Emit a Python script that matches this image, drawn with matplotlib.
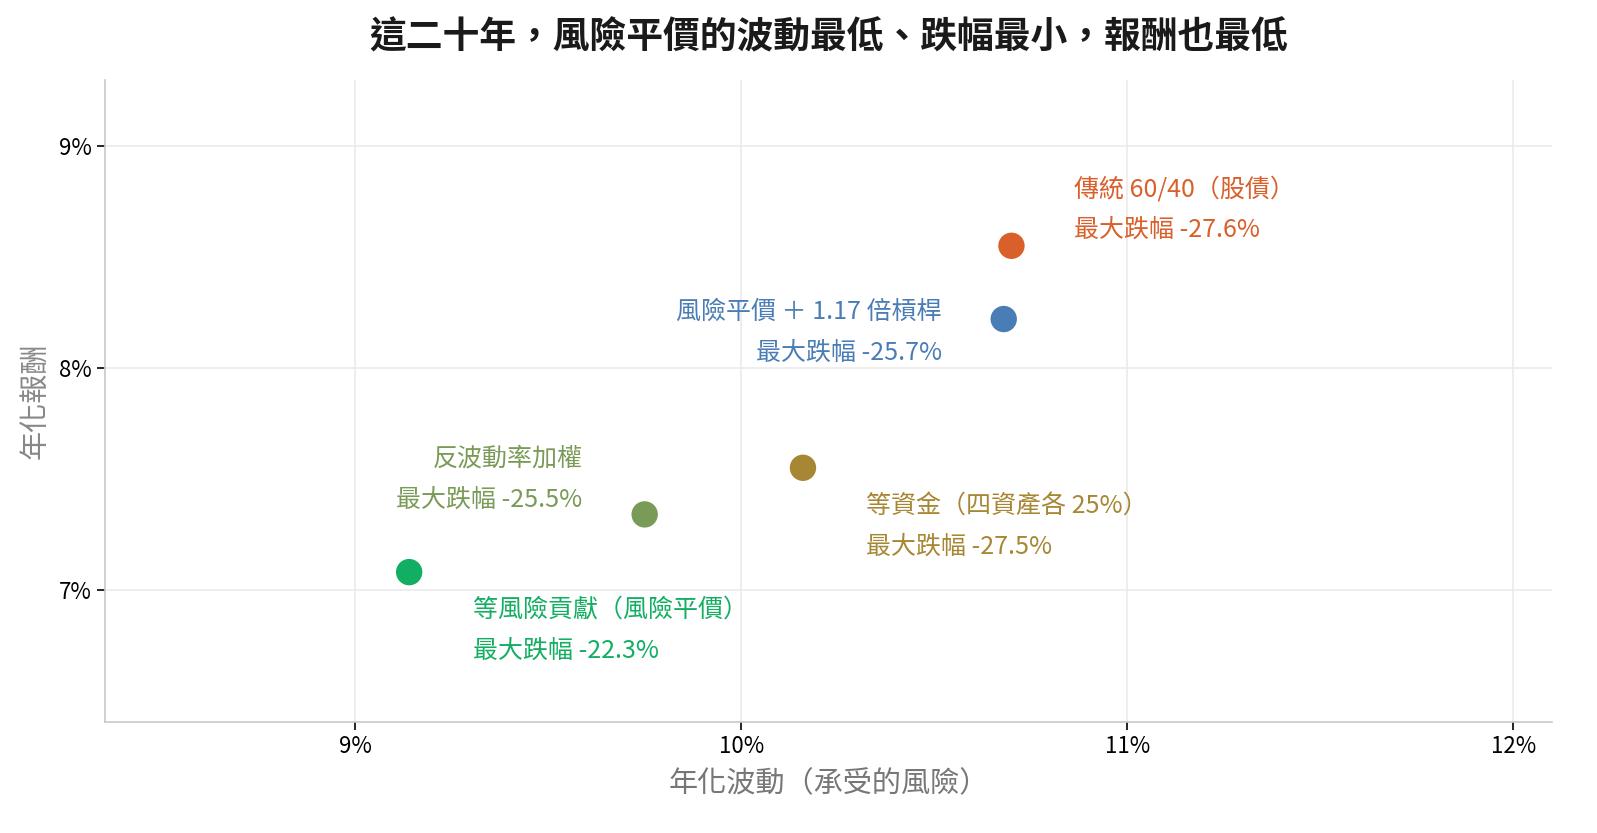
import matplotlib.pyplot as plt
from matplotlib.ticker import FuncFormatter

plt.rcParams['font.family'] = ['Noto Sans CJK TC', 'DejaVu Sans']

# Data
names = ['傳統 60/40（股債）', '風險平價 ＋ 1.17 倍槓桿', '等資金（四資產各 25%）',
         '反波動率加權', '等風險貢獻（風險平價）']
drawdowns = ['-27.6%', '-25.7%', '-27.5%', '-25.5%', '-22.3%']
vol = [10.70, 10.68, 10.16, 9.75, 9.14]
ret = [8.55, 8.22, 7.55, 7.34, 7.08]
colors = ['#D95F2B', '#4A7DB5', '#A88734', '#7A9B57', '#12AE62']
# label offsets in pixels and alignment
offsets = [(63, 36), (-62, -13), (63, -59), (-62, 35), (64, -58)]
aligns = ['left', 'right', 'left', 'right', 'left']

fig = plt.figure(figsize=(15.97, 8.33), dpi=100)
ax = fig.add_axes([0.0657, 0.1333, 0.9061, 0.7707])

ax.scatter(vol, ret, s=420, c=colors, edgecolors='white', linewidths=1.5, zorder=3)

for i in range(len(names)):
    ax.annotate(names[i] + '\n最大跌幅 ' + drawdowns[i], (vol[i], ret[i]),
                xytext=offsets[i], textcoords='offset pixels',
                ha=aligns[i], va='center', multialignment=aligns[i],
                color=colors[i], fontsize=18, linespacing=1.75)

ax.set_xlim(8.352, 12.10)
ax.set_ylim(6.405, 9.297)
ax.set_xticks([9, 10, 11, 12])
ax.set_yticks([7, 8, 9])
pct = FuncFormatter(lambda v, p: '%d%%' % round(v))
ax.xaxis.set_major_formatter(pct)
ax.yaxis.set_major_formatter(pct)
ax.tick_params(labelsize=16, length=6, width=1.2, color='black')

ax.grid(color='#EBEBEB', linewidth=1.2)
ax.set_axisbelow(True)
for s in ['top', 'right']:
    ax.spines[s].set_visible(False)
for s in ['left', 'bottom']:
    ax.spines[s].set_color('#C8C8C8')
    ax.spines[s].set_linewidth(1.2)

ax.set_xlabel('年化波動（承受的風險）', fontsize=21, color='#777777', labelpad=8)
ax.set_ylabel('年化報酬', fontsize=21, color='#888888', labelpad=6)

# title centred over the plot area
fig.text(0.0657 + 0.9061 / 2, 0.955, '這二十年，風險平價的波動最低、跌幅最小，報酬也最低',
         ha='center', va='center', fontsize=26.5, fontweight='bold', color='#1a1a1a')

fig.savefig('out.png', dpi=100)
